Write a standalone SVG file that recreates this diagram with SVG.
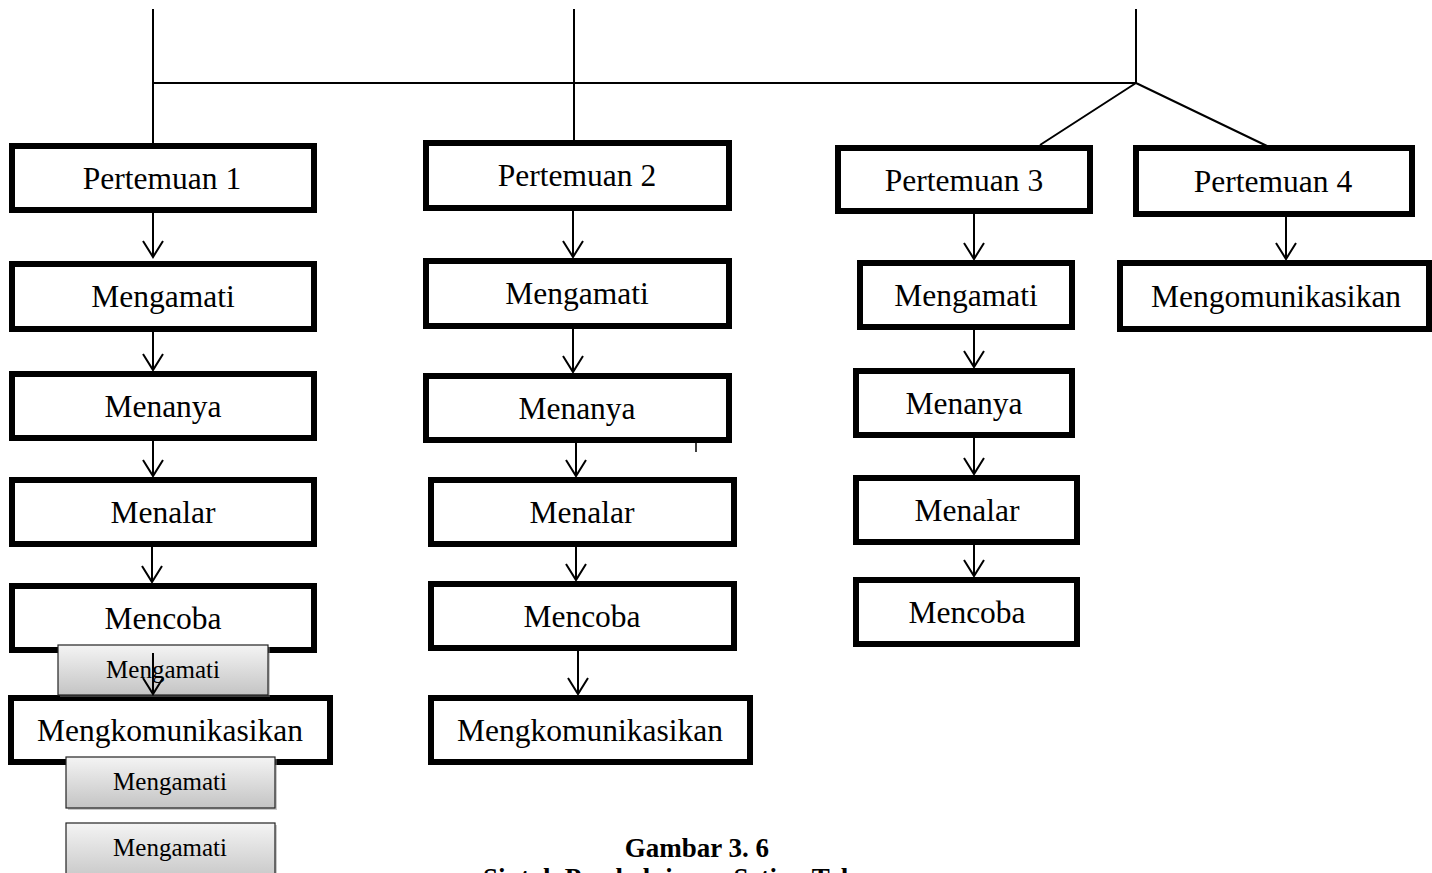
<svg xmlns="http://www.w3.org/2000/svg" width="1432" height="873" viewBox="0 0 1432 873">
<defs>
<linearGradient id="gr" x1="0" y1="0" x2="0" y2="1">
<stop offset="0" stop-color="#f4f4f4"/>
<stop offset="1" stop-color="#c4c4c4"/>
</linearGradient>
</defs>
<style>
.box{fill:#fff;stroke:#000;stroke-width:6}
.t{font-family:"Liberation Serif","Times New Roman",serif;font-size:31.5px;fill:#000;text-anchor:middle}
.g{fill:url(#gr);stroke:#222;stroke-width:1.2}
.gs{fill:#888;opacity:.45}
.gt{font-family:"Liberation Serif","Times New Roman",serif;font-size:25px;fill:#000;text-anchor:middle}
.ln{stroke:#000;stroke-width:2;fill:none}
.cap{font-family:"Liberation Serif","Times New Roman",serif;font-size:27px;font-weight:bold;fill:#000;text-anchor:middle}
</style>
<rect width="1432" height="873" fill="#fff"/>

<g id="c1-p"><rect class="box" x="12" y="146" width="302" height="64"/><text class="t" x="162" y="189">Pertemuan 1</text></g>
<g id="c1-mengamati"><rect class="box" x="12" y="264" width="302" height="65"/><text class="t" x="163" y="307">Mengamati</text></g>
<g id="c1-menanya"><rect class="box" x="12" y="374" width="302" height="64"/><text class="t" x="163" y="417">Menanya</text></g>
<g id="c1-menalar"><rect class="box" x="12" y="480" width="302" height="64"/><text class="t" x="163" y="523">Menalar</text></g>
<g id="c1-mencoba"><rect class="box" x="12" y="586" width="302" height="64"/><text class="t" x="163" y="629">Mencoba</text></g>
<g id="c1-mengk"><rect class="box" x="11" y="698" width="319" height="64"/><text class="t" x="170" y="741">Mengkomunikasikan</text></g>

<g id="c2-p"><rect class="box" x="426" y="143" width="303" height="65"/><text class="t" x="577" y="186">Pertemuan 2</text></g>
<g id="c2-mengamati"><rect class="box" x="426" y="261" width="303" height="65"/><text class="t" x="577" y="304">Mengamati</text></g>
<g id="c2-menanya"><rect class="box" x="426" y="376" width="303" height="64"/><text class="t" x="577" y="419">Menanya</text></g>
<g id="c2-menalar"><rect class="box" x="431" y="480" width="303" height="64"/><text class="t" x="582" y="523">Menalar</text></g>
<g id="c2-mencoba"><rect class="box" x="431" y="584" width="303" height="64"/><text class="t" x="582" y="627">Mencoba</text></g>
<g id="c2-mengk"><rect class="box" x="431" y="698" width="319" height="64"/><text class="t" x="590" y="741">Mengkomunikasikan</text></g>

<g id="c3-p"><rect class="box" x="838" y="148" width="252" height="63"/><text class="t" x="964" y="191">Pertemuan 3</text></g>
<g id="c3-mengamati"><rect class="box" x="860" y="263" width="212" height="64"/><text class="t" x="966" y="306">Mengamati</text></g>
<g id="c3-menanya"><rect class="box" x="856" y="371" width="216" height="64"/><text class="t" x="964" y="414">Menanya</text></g>
<g id="c3-menalar"><rect class="box" x="856" y="478" width="221" height="64"/><text class="t" x="967" y="521">Menalar</text></g>
<g id="c3-mencoba"><rect class="box" x="856" y="580" width="221" height="64"/><text class="t" x="967" y="623">Mencoba</text></g>

<g id="c4-p"><rect class="box" x="1136" y="148" width="276" height="66"/><text class="t" x="1273" y="192">Pertemuan 4</text></g>
<g id="c4-mengk"><rect class="box" x="1120" y="263" width="309" height="66"/><text class="t" x="1276" y="307">Mengomunikasikan</text></g>

<g id="grey1"><rect class="gs" x="60" y="647" width="210" height="50"/><rect class="g" x="58" y="645" width="210" height="50"/><text class="gt" x="163" y="678">Mengamati</text></g>
<g id="grey2"><rect class="gs" x="68" y="759" width="209" height="51"/><rect class="g" x="66" y="757" width="209" height="51"/><text class="gt" x="170" y="790">Mengamati</text></g>
<g id="grey3"><rect class="gs" x="68" y="825" width="209" height="60"/><rect class="g" x="66" y="823" width="209" height="60"/><text class="gt" x="170" y="856">Mengamati</text></g>

<g id="connectors" class="ln">
<path d="M153 9V143M574 9V140M1136 9V83M152 83H1136M1136 83L1040 145M1136 83L1267 146"/>
<path d="M153 213V257M143 241L153 257L163 241"/>
<path d="M153 332V370M143 354L153 370L163 354"/>
<path d="M153 441V476M143 460L153 476L163 460"/>
<path d="M152 547V582M142 566L152 582L162 566"/>
<path d="M153 653V694M143 678L153 694L163 678"/>
<path d="M573 211V257M563 241L573 257L583 241"/>
<path d="M573 329V372M563 356L573 372L583 356"/>
<path d="M576 443V476M566 460L576 476L586 460"/>
<path d="M576 547V580M566 564L576 580L586 564"/>
<path d="M578 651V694M568 678L578 694L588 678"/>
<path d="M974 214V259M964 243L974 259L984 243"/>
<path d="M974 330V367M964 351L974 367L984 351"/>
<path d="M974 438V474M964 458L974 474L984 458"/>
<path d="M974 545V576M964 560L974 576L984 560"/>
<path d="M1286 217V259M1276 243L1286 259L1296 243"/>
<path d="M696 443V452" stroke-width="1.5"/>
</g>

<text class="cap" x="697" y="857">Gambar 3. 6</text>
<text class="cap" x="698" y="887">Sintak Pembelajaran Setiap Tahapan</text>
</svg>
